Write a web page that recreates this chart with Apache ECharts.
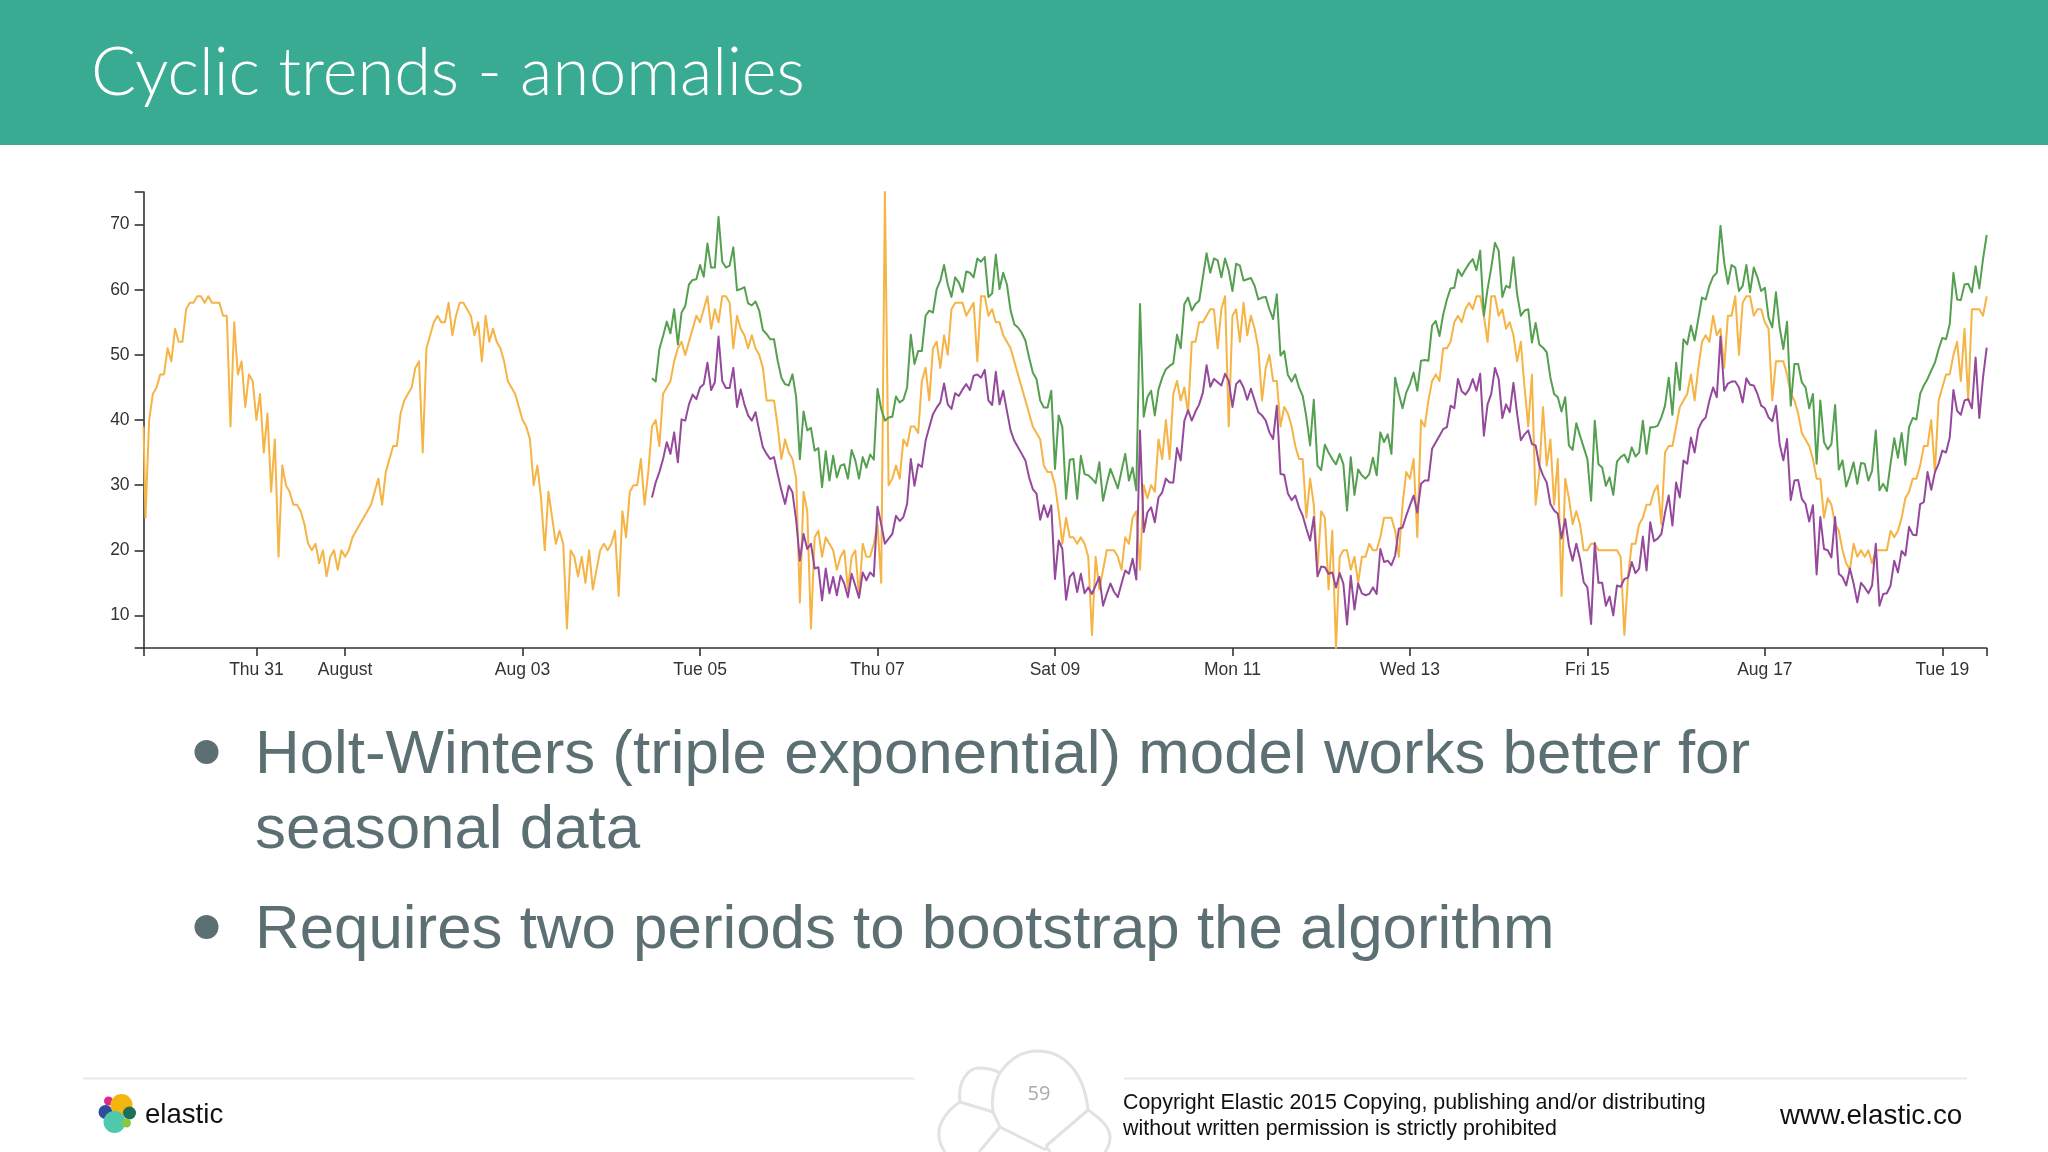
<!DOCTYPE html>
<html><head><meta charset="utf-8">
<style>html,body{margin:0;padding:0;background:#fff}#c{width:2048px;height:1152px}</style>
<script src="https://cdn.jsdelivr.net/npm/echarts@6/dist/echarts.min.js"></script>
</head><body><div id="c"></div>
<script>
const firstOrangeHour = -30.5;           // first sample sits on the axis start
const lastHour = 468;
const bandStartHour = 107;
const tickHours = [0,24,72,120,168,216,264,312,360,408,456];
const tickLabels = ['Thu 31','August','Aug 03','Tue 05','Thu 07','Sat 09','Mon 11','Wed 13','Fri 15','Aug 17','Tue 19'];
const yTicks = [5,10,20,30,40,50,60,70,75];
const yLabels = [10,20,30,40,50,60,70];

// observed: first sample, then hourly from h=-30
const observed = [39,
25,40,44,45,47,47,51,49,54,52,
52,57,58,58,59,59,58,59,58,58,
58,56,56,39,55,47,49,42,47,46,
40,44,35,41,29,37,19,33,30,29,
27,27,26,24,21,20,21,18,20,16,
19,20,17,20,19,20,22,23,24,25,
26,27,29,31,27,32,34,36,36,41,
43,44,45,48,49,35,51,53,55,56,
55,55,58,53,56,58,58,57,56,53,
55,49,56,52,54,52,51,49,46,45,
44,42,40,39,37,30,33,28,20,29,
25,21,23,21,8,20,19,16,19,15,
20,14,17,20,21,20,21,23,13,26,
22,29,30,30,34,27,32,39,40,36,
44,45,46,49,51,52,50,52,54,56,
55,57,59,54,57,55,59,59,58,51,
56,54,53,51,53,51,50,48,43,43,
43,39,34,37,35,34,31,12,29,26,
8,22,23,19,22,21,20,17,19,20,
14,19,20,13,21,19,19,21,24,15,
75,30,31,33,31,37,36,39,39,38,
46,48,43,51,52,48,53,50,57,58,
58,58,56,57,58,49,59,59,56,57,
55,55,53,52,51,49,47,45,43,41,
39,38,37,33,32,32,30,26,21,25,
22,22,21,22,21,19,7,19,14,17,
20,20,20,19,17,22,21,25,26,17,
30,28,30,29,37,34,40,34,44,46,
43,45,41,52,52,55,55,56,57,57,
51,57,59,39,56,57,52,58,53,56,
54,51,43,48,50,46,46,39,42,41,
39,36,34,34,25,31,27,17,26,25,
14,23,5,19,20,20,17,19,15,19,
19,21,20,20,22,25,25,25,23,19,
27,32,31,34,22,40,39,43,46,47,
46,51,51,52,55,56,55,57,58,57,
59,59,56,52,59,59,56,57,54,55,
53,49,52,45,39,47,27,32,42,33,
37,27,34,13,31,28,24,26,24,20,
20,21,21,20,20,20,20,20,20,19,
7,16,21,21,24,25,27,27,29,30,
24,35,36,36,39,42,43,44,47,43,
48,52,53,52,56,53,54,48,56,56,
59,50,58,59,59,56,57,57,55,54,
43,49,49,49,47,44,43,41,38,37,
36,34,31,31,25,28,27,24,23,20,
18,17,21,19,20,19,20,18,20,20,
20,20,23,22,23,25,28,29,31,31,
33,36,36,40,32,43,45,47,47,50,
52,46,54,43,57,57,57,56,59];

// upper band: hourly from h=107
const upper = [46.4,45.9,50.9,
52.9,55.1,53.3,57,51.6,56.5,57.5,60.8,61.5,61.6,
63.8,62,67.1,63.4,63.4,71.2,64.3,63.4,63.7,66.5,
59.9,60.1,60.4,57.9,57.6,58.2,56.8,53.8,53.2,52.4,
52.4,49.1,46.5,45.5,45.3,47,43.5,34,41.3,38.4,
38.8,35.3,35.7,29.7,35.2,30.7,34.5,31.2,33,33.2,
31,35.4,33.8,31,34.3,32.7,34.7,33.9,44.8,41.7,
39.9,40.4,40.5,43.6,42.7,43.1,45,53.1,48.6,50.6,
50.6,56,56.8,56.5,60.1,61.4,63.8,60.8,58.9,61.9,
61.1,59.6,62.8,62.6,61.9,64.8,64.3,65,58.9,59.4,
65.4,60.1,62.6,60.8,56.8,54.7,54.2,53.4,52.2,49.6,
47.3,46.3,43,41.9,41.9,44.5,32.5,40.7,38.9,27.9,
33.9,34,27.9,34.5,31.7,31.5,31,30.3,33.5,27.6,
30.2,32.5,31,29.5,32.2,34.8,30.7,32.7,29.2,57.8,
40.5,43.5,44.5,40.7,44.7,46.5,47.8,48.3,48.7,53.1,
51,57.8,58.8,56.8,57.8,58.3,61.9,65.6,62.6,64.8,
64.5,61.9,64.8,62.9,59.8,64,63.7,61.4,61.6,61.8,
60.6,58.5,58.8,58.9,57,55.5,59.3,49.9,50.6,46.9,
45.9,47,45,43.7,40.4,36.1,43.1,33,32.3,36.2,
35,34,33.2,34.8,33.2,26.1,34.3,28.5,32.4,31.5,
31,31.7,34.2,31.5,38.1,36.6,37.8,34.8,46.5,44,
41.8,44.2,45.5,47.3,44.5,49.1,49.2,49.1,54.5,55.2,
52.9,56.2,58.5,60.2,60.3,63.1,62.1,63.1,64,64.7,
63,66,56,60.1,63.4,67.2,66,58.9,60.6,60.3,
65,59.3,56,56.8,57,51.9,54.9,51.6,51.1,50.4,
46.5,44,43.5,41.3,43.5,36.1,35.4,39.5,37.6,35.8,
34,27.6,39.9,33.2,32.7,29.9,31.2,28.5,33.6,34.3,
34.7,33.5,35.8,34.4,35,39.9,34.8,38.9,38.9,39.1,
40.4,42.2,46.5,40.8,48.8,44.6,52.4,51.6,54.5,52.2,
55.5,58.8,58.5,60.6,62,62.6,69.8,64.2,60.9,63.8,
63.4,59.8,60.6,63.8,59.6,63.4,61.9,59.8,60.3,55.7,
54.2,59.6,54.2,50.9,55.1,42.2,48.6,48.6,45.8,45,
41.8,44,33.3,43,36.6,35.5,36.3,42.3,32.4,33.8,
29.8,31.5,33.5,30.2,33.4,33.3,30.7,32.2,38.4,29.2,
30.2,29.1,33.3,37.2,34.2,38,33.1,38.9,40.3,40.1,
44,45.3,46.3,47.6,48.8,50.9,52.6,52.4,54.7,62.6,
58.5,58.4,60.8,60.9,59.6,63.6,60.2,64.7,68.4];

// lower band: hourly from h=107
const lower = [28.1,30.4,32,
34,36.6,34.8,38.1,33.5,40.1,39.9,42.4,43.9,43.2,
45,45.5,48.8,44.6,45.8,52.8,46,44.9,44.9,48,
42,44.7,42.4,40.7,39.9,41.2,38.4,35.8,34.8,34,
34.3,31.7,29.2,27.1,29.9,28.9,24.6,18.4,22.5,20.2,
21,17.2,17.4,12.3,17.2,13.4,15.9,13.1,16.1,14.9,
12.8,16.4,14.6,12.7,16.6,15.4,16.6,16,26.7,24,
21,21.8,22.5,25.3,24.5,25.1,27.1,34,29.9,33.2,
32.8,36.8,38.9,40.9,41.9,42.7,45.6,42.4,41.7,44.1,
43.7,44.7,45.5,44.6,46.8,47,46.5,47.7,43,42.3,
47.4,42.4,44.5,41.4,38.4,36.8,35.8,34.8,33.8,31.2,
29.4,28.7,24.7,26.9,25.1,26.9,15.6,21.5,20.2,12.4,
15.9,16.6,13.6,16.4,13.4,14.3,13.3,14.6,15.9,11.5,
13.3,14.9,13.6,12.8,14.9,16.9,16.4,18.7,15.5,38.4,
22.8,25.8,26.6,24.3,28.1,28.9,31,30.4,30.4,35.7,
33.8,39.9,41.5,39.9,41.3,42.4,44.2,48.4,45.1,46.3,
45.8,45.3,47.1,46,42,45.5,46.1,45,43.1,44.8,
43,41.2,40.7,39.9,38.1,37.1,42.2,31.7,31.6,28.7,
27.7,28.4,26.6,25.3,23.3,21.5,25.1,16,17.5,17.4,
16.4,16.6,14.3,16.5,14.9,8.6,16.1,10.9,14.9,13.4,
13.1,13.3,14.3,13.3,20.2,18.2,18.4,17.7,19.2,23.3,
23.5,25.3,26.9,28.4,25.8,30.2,30.7,30.7,35.6,36.6,
37.6,38.6,38.9,42.2,41.8,46.3,44.4,43.9,44.7,46.3,
44.5,47.1,37.6,42.4,44,48,46.3,40.3,42.4,41.2,
45.7,40.9,36.9,37.8,38.4,36.3,36.1,33,31.5,30.4,
27.1,26.1,25.6,21.8,24.8,20.7,18.4,21,18.7,15.1,
14.3,8.7,21.1,15,15,11.5,12.9,10,14.6,14.4,
15.6,15.8,18.2,16.5,17.2,22.1,16.9,24.3,21.4,21.8,
22.5,25.8,28.4,23.8,30.4,28.1,33.8,33.3,37.3,35,
38.6,39.8,40.4,43,45,43.5,52.8,44.5,45.6,45.9,
45.9,45,42.7,46.4,45.4,45.3,44,42.2,41.8,40.4,
39.8,42.2,36.3,33.8,37.1,27.7,30.7,30.8,27.9,27.1,
24.4,26.9,16.3,25.1,20.2,20,18.9,25.1,16.4,15.9,
14.6,17.2,14.9,12,15,14.3,13.4,14.6,21,11.5,
13.3,13.4,14.6,18.4,16.6,19.9,19.2,23.6,22.4,22.3,
27.1,27.4,32,29.3,32,33.3,35.3,35,37.3,44.6,
41.4,40.8,43,43.2,41.8,49.6,40.3,46.5,51.1];

const titleText = 'Cyclic trends - anomalies';
const bullets = ['Holt-Winters (triple exponential) model works better for','seasonal data','Requires two periods to bootstrap the algorithm'];
const copyLines = ['Copyright Elastic 2015 Copying, publishing and/or distributing','without written permission is strictly prohibited'];

const orangeData = observed.map((v,i)=>[i===0?firstOrangeHour:firstOrangeHour+i-0.5,v]);
const upperData = upper.map((v,i)=>[bandStartHour+i,v]);
const lowerData = lower.map((v,i)=>[bandStartHour+i,v]);
const ser = (name,data,color)=>({name,type:'line',data,showSymbol:false,symbol:'none',smooth:false,
  lineStyle:{color,width:2,join:'round'},silent:true,animation:false});
const txt = (x,y,text,font,fill,align)=>({type:'text',x,y,silent:true,style:{text,font,fill,textAlign:align||'left',textVerticalAlign:'middle'}});
const blob = (cx,cy,r,fill)=>({type:'circle',silent:true,shape:{cx,cy,r},style:{fill}});
const petalStyle = {fill:'none',stroke:'#e2e2e2',lineWidth:3};
const curve = (x1,y1,cpx1,cpy1,cpx2,cpy2,x2,y2)=>({type:'bezierCurve',silent:true,shape:{x1,y1,cpx1,cpy1,cpx2,cpy2,x2,y2},style:petalStyle});
const seg = (x1,y1,x2,y2)=>({type:'line',silent:true,shape:{x1,y1,x2,y2},style:petalStyle});
const rule = (x1,x2)=>({type:'line',silent:true,shape:{x1,y1:1078.5,x2,y2:1078.5},style:{stroke:'#e9e9e9',lineWidth:2}});

const chart = echarts.init(document.getElementById('c'),null,{renderer:'canvas'});
chart.setOption({
  animation:false,backgroundColor:'#ffffff',
  grid:{left:143.6,right:61.3,top:192,bottom:504,containLabel:false},
  xAxis:{type:'value',min:firstOrangeHour,max:lastHour,splitLine:{show:false},
    axisLine:{onZero:false,lineStyle:{color:'#333',width:1.6}},
    axisTick:{show:true,length:8,lineStyle:{color:'#333',width:1.6},customValues:[firstOrangeHour,...tickHours,lastHour]},
    axisLabel:{customValues:tickHours,margin:13,color:'#333',fontFamily:'Liberation Sans',fontSize:17.5,
      formatter:v=>tickLabels[tickHours.indexOf(v)]||''}},
  yAxis:{type:'value',min:5,max:75,splitLine:{show:false},
    axisLine:{show:true,onZero:false,lineStyle:{color:'#333',width:1.6}},
    axisTick:{show:true,length:9,lineStyle:{color:'#333',width:1.6},customValues:yTicks},
    axisLabel:{customValues:yLabels,margin:14,color:'#333',fontFamily:'Liberation Sans',fontSize:17.5}},
  series:[ser('Observed',orangeData,'#F5B445'),ser('Upper',upperData,'#559F50'),ser('Lower',lowerData,'#95499D')],
  graphic:{elements:[
    {type:'rect',silent:true,shape:{x:0,y:0,width:2048,height:145},style:{fill:'#3AAB93'}},
    txt(91,73,titleText,'300 66.7px Lato','#ffffff'),
    blob(206.5,752,12,'#5C7074'),
    blob(206.5,927,12,'#5C7074'),
    txt(255,756,bullets[0],'61.85px "Liberation Sans"','#5C7074'),
    txt(255,831,bullets[1],'61.85px "Liberation Sans"','#5C7074'),
    txt(255,931,bullets[2],'61.85px "Liberation Sans"','#5C7074'),
    rule(83,914),rule(1124,1967),
    curve(1000,1073,1010,1058,1024,1051,1038,1051),
    curve(1038,1051,1062,1051,1084,1070,1088,1110),
    curve(1000,1073,993,1085,991,1100,993,1112),
    seg(1088,1110,1046,1146),
    seg(1000,1127,1046,1150),
    seg(993,1112,1000,1127),
    seg(1000,1127,979,1152),
    curve(960,1102,957,1082,968,1068,979,1068),
    curve(979,1068,988,1068,995,1070,1000,1073),
    seg(960,1102,993,1112),
    curve(960,1102,945,1112,938,1125,939,1135),
    curve(939,1135,939,1142,942,1148,945,1152),
    curve(1088,1110,1100,1118,1110,1128,1110,1137),
    curve(1110,1137,1110,1143,1108,1148,1105,1152),
    seg(1046,1146,1050,1152),
    txt(1039,1094,'59','20px "Open Sans"','#aaaaaa','center'),
    blob(108.5,1101,4.5,'#E0288A'),blob(105.5,1112,7,'#2F4C9C'),
    blob(121.5,1105,11,'#F4B60E'),blob(129.5,1113,6.5,'#1F6F5B'),
    blob(114.5,1122,11,'#4FC9AE'),blob(126.5,1123,4.5,'#8CC63F'),
    txt(145,1115,'elastic','27.6px "Liberation Sans"','#111111'),
    txt(1123,1103.5,copyLines[0],'21.4px "Liberation Sans"','#111111'),
    txt(1123,1129.5,copyLines[1],'21.4px "Liberation Sans"','#111111'),
    txt(1780,1116,'www.elastic.co','27.8px "Liberation Sans"','#111111')
  ]}
});
</script></body></html>
